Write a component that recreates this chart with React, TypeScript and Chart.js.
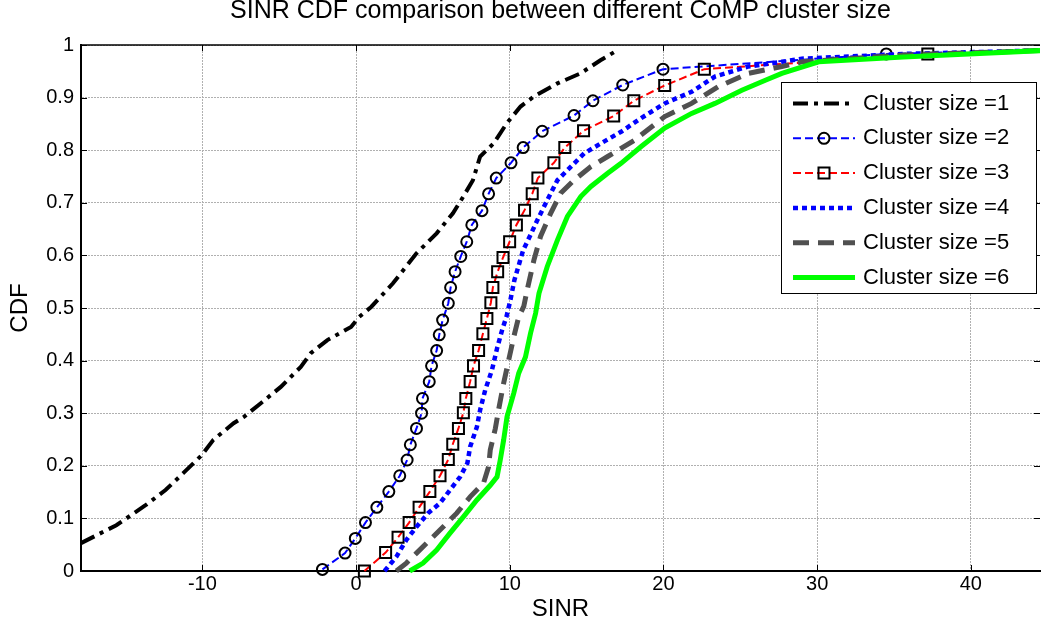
import React, { useEffect, useRef } from 'react';
import { Chart, registerables } from 'chart.js';

Chart.register(...registerables);

const FONT = "'Liberation Sans', Arial, Helvetica, sans-serif";

const titleText = 'SINR CDF comparison between different CoMP cluster size';
const xLabel = 'SINR';
const yLabel = 'CDF';
const xMin = -17.9;
const xMax = 44.5;
const xStep = 10;
const yMin = 0;
const yMax = 1;
const yStep = 0.1;

const seriesLabels = [
  'Cluster size =1',
  'Cluster size =2',
  'Cluster size =3',
  'Cluster size =4',
  'Cluster size =5',
  'Cluster size =6',
];

// Cluster size = 1
const s1X = [-17.9, -15.6, -13.7, -12.4, -11.25, -10.05, -9.3, -7.97, -7.3, -6.2, -4.9, -3.6, -2.95, -1.87, -0.33, 0.2, 0.98, 2.4, 3.93, 5.24, 6.3, 6.98, 7.6, 8.07, 8.95, 9.8, 10.7, 11.57, 13.1, 14.6, 15.9, 17.0];
const s1Y = [0.053, 0.087, 0.125, 0.154, 0.186, 0.22, 0.249, 0.281, 0.293, 0.319, 0.35, 0.388, 0.414, 0.439, 0.464, 0.483, 0.502, 0.547, 0.604, 0.642, 0.68, 0.712, 0.743, 0.788, 0.813, 0.851, 0.883, 0.902, 0.927, 0.946, 0.971, 0.99];

// Cluster size = 2
const s2X = [-2.19, -0.72, -0.05, 0.61, 1.35, 2.13, 2.84, 3.32, 3.53, 3.93, 4.26, 4.32, 4.76, 4.91, 5.24, 5.41, 5.63, 6.0, 6.15, 6.44, 6.81, 7.2, 7.53, 8.19, 8.62, 9.12, 10.08, 10.87, 12.11, 14.18, 15.41, 17.35, 19.97, 34.5, 58];
const s2Y = [0.003, 0.034, 0.062, 0.092, 0.121, 0.151, 0.181, 0.211, 0.24, 0.271, 0.3, 0.328, 0.36, 0.39, 0.419, 0.449, 0.477, 0.509, 0.539, 0.569, 0.598, 0.626, 0.658, 0.685, 0.717, 0.747, 0.776, 0.805, 0.836, 0.866, 0.894, 0.924, 0.954, 0.983, 1.0];

// Cluster size = 3
const s3X = [0.54, 1.92, 2.73, 3.45, 4.1, 4.8, 5.46, 6.0, 6.29, 6.66, 6.98, 7.14, 7.42, 7.64, 7.97, 8.25, 8.51, 8.77, 8.9, 9.21, 9.56, 9.99, 10.43, 10.96, 11.46, 11.83, 12.87, 13.58, 14.8, 16.76, 18.07, 20.08, 22.66, 37.2, 60];
const s3Y = [0.0, 0.035, 0.064, 0.092, 0.121, 0.151, 0.181, 0.212, 0.241, 0.271, 0.301, 0.328, 0.36, 0.39, 0.419, 0.451, 0.48, 0.51, 0.539, 0.569, 0.596, 0.626, 0.658, 0.686, 0.717, 0.747, 0.776, 0.805, 0.837, 0.865, 0.894, 0.923, 0.954, 0.983, 1.0];

// Cluster size = 4
const s4X = [1.85, 2.62, 3.27, 3.93, 4.69, 5.46, 6.11, 6.77, 7.24, 7.42, 7.86, 8.07, 8.4, 8.84, 9.17, 9.5, 9.78, 10.04, 10.3, 10.87, 11.35, 11.79, 12.44, 13.1, 13.75, 14.84, 15.93, 17.24, 18.55, 20.08, 21.83, 23.35, 25.5, 27.7, 29, 35.6, 45];
const s4Y = [0.0, 0.027, 0.059, 0.084, 0.11, 0.129, 0.154, 0.179, 0.205, 0.236, 0.274, 0.306, 0.344, 0.382, 0.423, 0.458, 0.483, 0.515, 0.553, 0.61, 0.639, 0.667, 0.705, 0.743, 0.762, 0.794, 0.813, 0.835, 0.861, 0.889, 0.911, 0.94, 0.959, 0.968, 0.974, 0.983, 0.99];

// Cluster size = 5
const s5X = [2.62, 3.27, 3.93, 4.8, 5.67, 6.55, 7.42, 8.29, 8.62, 8.73, 9.06, 9.27, 9.6, 9.93, 10.26, 10.58, 10.91, 11.13, 11.57, 12.0, 12.66, 13.31, 14.18, 15.28, 16.37, 18.11, 20.08, 21.83, 23.58, 25.5, 27.7, 29, 35.6, 45];
const s5Y = [0.0, 0.015, 0.034, 0.059, 0.084, 0.11, 0.141, 0.167, 0.198, 0.23, 0.271, 0.306, 0.357, 0.401, 0.445, 0.483, 0.503, 0.534, 0.591, 0.636, 0.68, 0.718, 0.743, 0.769, 0.788, 0.819, 0.864, 0.889, 0.921, 0.946, 0.959, 0.968, 0.981, 0.99];

// Cluster size = 6
const s6X = [3.49, 4.36, 5.24, 6.11, 6.98, 7.86, 8.73, 9.17, 9.38, 9.6, 9.82, 10.26, 10.58, 11.02, 11.35, 11.68, 11.9, 12.44, 13.1, 13.75, 14.62, 15.28, 16.37, 17.24, 18.55, 20.08, 21.83, 23.35, 25.1, 26.63, 27.7, 30.1, 35.6, 45];
const s6Y = [0.0, 0.015, 0.04, 0.072, 0.103, 0.135, 0.163, 0.179, 0.211, 0.249, 0.293, 0.338, 0.376, 0.407, 0.452, 0.49, 0.528, 0.579, 0.629, 0.674, 0.712, 0.731, 0.756, 0.775, 0.807, 0.842, 0.87, 0.889, 0.914, 0.933, 0.946, 0.968, 0.977, 0.99];

const seriesX = [s1X, s2X, s3X, s4X, s5X, s6X];
const seriesY = [s1Y, s2Y, s3Y, s4Y, s5Y, s6Y];

const seriesStyle = [
  { color: '#000000', width: 4, dash: [15, 6, 4, 6], marker: null },
  { color: '#0000ff', width: 2, dash: [8, 4], marker: 'circle' },
  { color: '#ff0000', width: 2, dash: [8, 4], marker: 'rect' },
  { color: '#0000ff', width: 4.5, dash: [5, 4], marker: null },
  { color: '#505050', width: 5, dash: [16, 9], marker: null },
  { color: '#00ff00', width: 5, dash: [], marker: null },
];

function drawMarker(ctx: CanvasRenderingContext2D, kind: string, x: number, y: number) {
  ctx.save();
  ctx.setLineDash([]);
  ctx.lineWidth = 2;
  ctx.strokeStyle = '#000';
  ctx.beginPath();
  if (kind === 'circle') {
    ctx.arc(x, y, 5.5, 0, Math.PI * 2);
  } else {
    ctx.rect(x - 5.5, y - 5.5, 11, 11);
  }
  ctx.stroke();
  ctx.restore();
}

const framePlugin = {
  id: 'matlabFrame',
  afterDraw(chart: any) {
    const { ctx, chartArea, scales } = chart;
    const { left, right, top, bottom } = chartArea;
    ctx.save();
    ctx.setLineDash([]);
    ctx.strokeStyle = '#000';
    ctx.lineWidth = 1.5;
    ctx.beginPath();
    ctx.moveTo(left, top);
    ctx.lineTo(right, top);
    ctx.stroke();
    ctx.lineWidth = 1;
    ctx.beginPath();
    scales.x.ticks.forEach((t: any) => {
      const px = Math.round(scales.x.getPixelForValue(t.value)) + 0.5;
      ctx.moveTo(px, bottom);
      ctx.lineTo(px, bottom - 6);
      ctx.moveTo(px, top);
      ctx.lineTo(px, top + 6);
    });
    scales.y.ticks.forEach((t: any) => {
      const py = Math.round(scales.y.getPixelForValue(t.value)) + 0.5;
      ctx.moveTo(left, py);
      ctx.lineTo(left + 6, py);
      ctx.moveTo(right, py);
      ctx.lineTo(right - 6, py);
    });
    ctx.stroke();
    ctx.restore();
  },
};

const legendPlugin = {
  id: 'insideLegend',
  afterDraw(chart: any) {
    const { ctx, chartArea } = chart;
    const w = 255;
    const h = 211;
    const x0 = chartArea.right - 4 - w;
    const y0 = chartArea.top + 37;
    ctx.save();
    ctx.setLineDash([]);
    ctx.fillStyle = '#ffffff';
    ctx.fillRect(x0, y0, w, h);
    ctx.strokeStyle = '#000';
    ctx.lineWidth = 1;
    ctx.strokeRect(x0 + 0.5, y0 + 0.5, w, h);
    chart.data.datasets.forEach((ds: any, i: number) => {
      const st = seriesStyle[i];
      const cy = y0 + 21.5 + i * 34.8;
      ctx.save();
      ctx.beginPath();
      ctx.setLineDash(st.dash);
      ctx.lineCap = 'butt';
      ctx.lineWidth = st.width;
      ctx.strokeStyle = st.color;
      ctx.moveTo(x0 + 12, cy);
      ctx.lineTo(x0 + 74, cy);
      ctx.stroke();
      ctx.restore();
      if (st.marker) drawMarker(ctx, st.marker, x0 + 43, cy);
      ctx.fillStyle = '#000';
      ctx.font = `22px ${FONT}`;
      ctx.textBaseline = 'middle';
      ctx.textAlign = 'left';
      ctx.fillText(ds.label, x0 + 82, cy);
    });
    ctx.restore();
  },
};

export default function App() {
  const canvasRef = useRef<HTMLCanvasElement | null>(null);

  useEffect(() => {
    const canvas = canvasRef.current;
    if (!canvas) return;
    const datasets = seriesLabels.map((label, i) => {
      const st = seriesStyle[i];
      return {
        label,
        data: seriesX[i].map((x, j) => ({ x, y: seriesY[i][j] })),
        borderColor: st.color,
        backgroundColor: st.color,
        borderWidth: st.width,
        borderDash: st.dash,
        borderCapStyle: 'butt',
        borderJoinStyle: 'miter',
        tension: 0,
        fill: false,
        pointRadius: st.marker ? (st.marker === 'rect' ? 7.8 : 5.5) : 0,
        pointStyle: st.marker || 'circle',
        pointBorderColor: '#000',
        pointBorderWidth: 2,
        pointBackgroundColor: 'rgba(0,0,0,0)',
        order: 6 - i,
        clip: { left: 10, top: 10, right: 0, bottom: 10 },
      };
    });

    const chart = new Chart(canvas, {
      type: 'line',
      data: { datasets } as any,
      options: {
        responsive: false,
        animation: false,
        events: [],
        layout: { autoPadding: false, padding: { left: 0, right: 1, top: 0, bottom: 0 } },
        plugins: {
          legend: { display: false },
          tooltip: { enabled: false },
          title: {
            display: true,
            text: titleText,
            color: '#000',
            fullSize: false,
            font: { family: FONT, size: 25, weight: 'normal', lineHeight: 0.9 },
            padding: { top: 0, bottom: 22.5 },
          },
        },
        scales: {
          x: {
            type: 'linear',
            min: xMin,
            max: xMax,
            afterFit: (s: any) => {
              s.height = 62;
              s.paddingLeft = 0;
              s.paddingRight = 0;
            },
            ticks: {
              stepSize: xStep,
              includeBounds: false,
              color: '#000',
              padding: 3,
              maxRotation: 0,
              font: { family: FONT, size: 20, lineHeight: 1 },
            },
            grid: { color: '#b0b0b0', lineWidth: 1, drawTicks: false },
            border: { display: true, color: '#000', width: 2, dash: [2, 1] },
            title: {
              display: true,
              text: xLabel,
              color: '#000',
              font: { family: FONT, size: 24, lineHeight: 1 },
              padding: { top: 0, bottom: 11.5 },
            },
          },
          y: {
            type: 'linear',
            min: yMin,
            max: yMax,
            afterFit: (s: any) => {
              s.width = 81;
              s.paddingTop = 0;
              s.paddingBottom = 0;
            },
            ticks: {
              stepSize: yStep,
              includeBounds: false,
              color: '#000',
              padding: 7,
              font: { family: FONT, size: 20, lineHeight: 1 },
              callback: (v: any) => String(Math.round(Number(v) * 10) / 10),
            },
            grid: { color: '#b0b0b0', lineWidth: 1, drawTicks: false },
            border: { display: true, color: '#000', width: 2, dash: [2, 1] },
            title: {
              display: true,
              text: yLabel,
              color: '#000',
              font: { family: FONT, size: 24, lineHeight: 1 },
              padding: { top: 8, bottom: 0 },
            },
          },
        },
      } as any,
      plugins: [framePlugin, legendPlugin],
    });
    return () => chart.destroy();
  }, []);

  return (
    <div
      style={{
        position: 'fixed',
        left: 0,
        top: 0,
        width: 1041,
        height: 633,
        background: '#ffffff',
      }}
    >
      <canvas ref={canvasRef} width={1041} height={633} style={{ display: 'block' }} />
    </div>
  );
}
